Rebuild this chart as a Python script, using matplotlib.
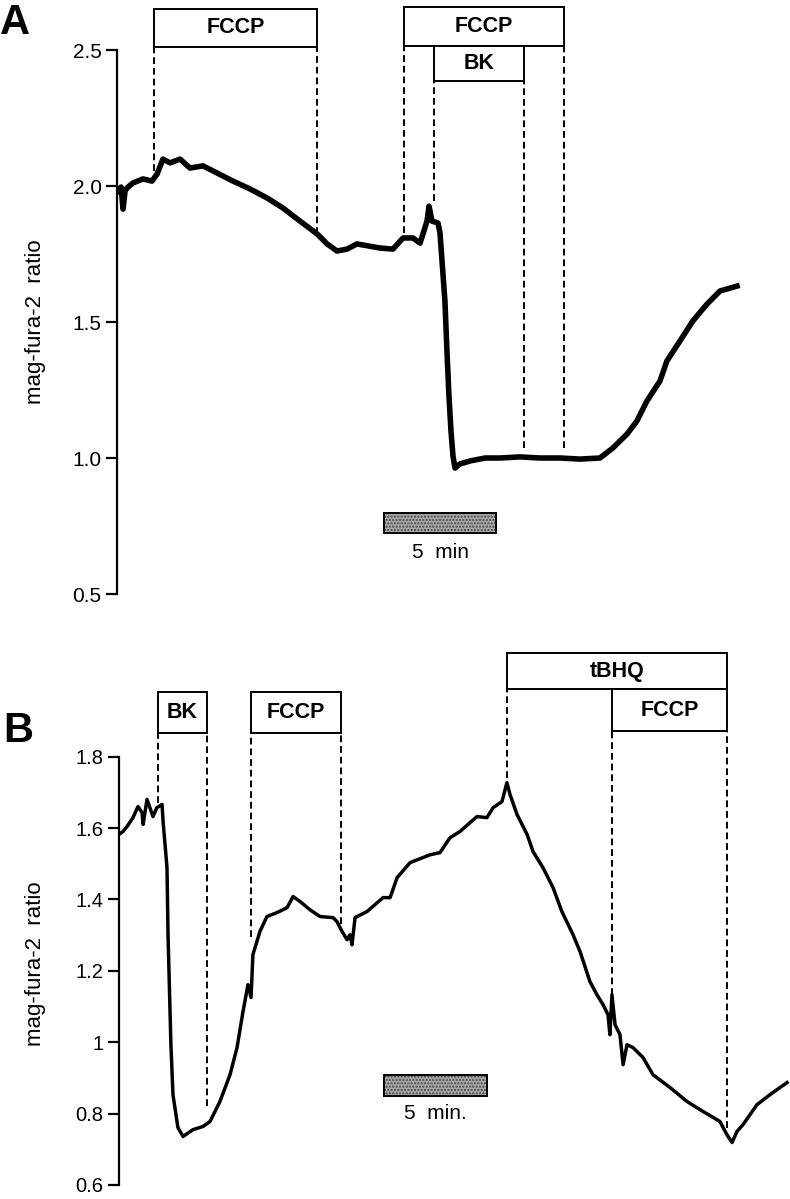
import numpy as np
import matplotlib
matplotlib.use('Agg')
import matplotlib.pyplot as plt
from matplotlib.patches import Rectangle

plt.rcParams['font.family'] = ['Liberation Sans', 'DejaVu Sans']

# ---- panel A: mag-fura-2 ratio vs time (min) ----
a_time = [0.04, 0.18, 0.27, 0.36, 0.45, 0.71, 1.16, 1.56, 1.79, 2.05, 2.37, 2.81,
          3.26, 3.84, 4.46, 5.18, 5.94, 6.70, 7.41, 8.17, 8.93, 9.38, 9.82, 10.27,
          10.71, 11.74, 12.32, 12.77, 13.21, 13.53, 13.84, 13.93, 14.06, 14.33,
          14.42, 14.51, 14.64, 14.73, 14.82, 14.91, 15.00, 15.09, 15.31, 15.76,
          16.43, 17.10, 17.99, 18.88, 19.78, 20.67, 21.56, 22.14, 22.77, 23.21,
          23.66, 24.24, 24.55, 25.13, 25.71, 26.34, 26.92, 27.68]
a_ratio = [1.982, 1.996, 1.915, 1.982, 1.993, 2.011, 2.026, 2.018, 2.044, 2.099,
           2.085, 2.099, 2.066, 2.074, 2.048, 2.018, 1.989, 1.956, 1.919, 1.871,
           1.824, 1.787, 1.761, 1.768, 1.787, 1.772, 1.768, 1.809, 1.809, 1.790,
           1.871, 1.926, 1.871, 1.864, 1.827, 1.724, 1.577, 1.393, 1.228, 1.099,
           1.007, 0.963, 0.978, 0.989, 1.000, 1.000, 1.004, 1.000, 1.000, 0.996,
           1.000, 1.037, 1.088, 1.136, 1.210, 1.283, 1.357, 1.430, 1.504, 1.566,
           1.614, 1.632]
a_events = [1.65, 8.93, 12.81, 14.15, 18.17, 19.96]
a_event_ends = [2.055, 1.824, 1.827, 1.945, 1.037, 1.037]
a_ticks = [0.5, 1.0, 1.5, 2.0, 2.5]
a_ticklabels = ['0.5', '1.0', '1.5', '2.0', '2.5']

# ---- panel B ----
b_time = [0.0, 0.19, 0.39, 0.68, 0.92, 1.12, 1.17, 1.36, 1.50, 1.65, 1.84, 2.09,
          2.14, 2.33, 2.38, 2.52, 2.62, 2.86, 3.11, 3.59, 4.08, 4.42, 4.90, 5.39,
          5.73, 6.02, 6.26, 6.41, 6.50, 6.84, 7.18, 7.67, 8.16, 8.45, 8.79, 9.27,
          9.76, 10.39, 10.58, 10.83, 11.07, 11.21, 11.31, 11.46, 12.04, 12.82,
          13.16, 13.50, 14.13, 15.10, 15.58, 16.07, 16.55, 17.04, 17.38, 17.86,
          18.16, 18.59, 18.83, 18.98, 19.32, 19.81, 20.10, 20.58, 21.07, 21.50,
          22.04, 22.38, 22.86, 23.20, 23.50, 23.74, 23.83, 23.93, 24.08, 24.32,
          24.47, 24.66, 24.95, 25.44, 25.92, 26.75, 27.57, 28.35, 29.17, 29.51,
          29.76, 30.00, 30.29, 30.97, 31.60, 32.43]
b_ratio = [1.582, 1.590, 1.604, 1.629, 1.660, 1.643, 1.610, 1.680, 1.657, 1.632,
           1.657, 1.666, 1.618, 1.489, 1.301, 0.993, 0.853, 0.761, 0.736, 0.755,
           0.764, 0.778, 0.834, 0.909, 0.985, 1.086, 1.161, 1.125, 1.245, 1.310,
           1.352, 1.363, 1.377, 1.408, 1.394, 1.371, 1.352, 1.349, 1.338, 1.310,
           1.287, 1.301, 1.273, 1.349, 1.366, 1.405, 1.405, 1.461, 1.503, 1.525,
           1.531, 1.573, 1.590, 1.615, 1.632, 1.629, 1.657, 1.674, 1.727, 1.694,
           1.638, 1.582, 1.534, 1.489, 1.433, 1.366, 1.301, 1.254, 1.170, 1.133,
           1.105, 1.077, 1.021, 1.133, 1.049, 1.021, 0.937, 0.993, 0.985, 0.957,
           0.909, 0.873, 0.834, 0.806, 0.778, 0.741, 0.719, 0.750, 0.769, 0.825,
           0.853, 0.887]
b_events = [1.89, 4.27, 6.41, 10.78, 18.83, 23.93, 29.51]
b_event_ends = [1.671, 0.820, 1.296, 1.330, 1.741, 1.133, 0.761]
b_ticks = [0.6, 0.8, 1.0, 1.2, 1.4, 1.6, 1.8]
b_ticklabels = ['0.6', '0.8', '1', '1.2', '1.4', '1.6', '1.8']

W, H = 790, 1199
DASH = (0, (3.5, 2))


def draw_box(ax, t0, t1, y0, y1, label):
    ax.add_patch(Rectangle((t0, y0), t1 - t0, y1 - y0, facecolor='white',
                           edgecolor='black', lw=1.4, clip_on=False, zorder=4))
    ax.text((t0 + t1) / 2, (y0 + y1) / 2, label, ha='center', va='center',
            fontsize=15.5, fontweight='bold', zorder=5, clip_on=False)


def scale_bar(ax, t0, y0, y1, ytext, label):
    ax.add_patch(Rectangle((t0, y0), 5, y1 - y0, facecolor='#a8a8a8',
                           edgecolor='#444444', hatch='.....', lw=0, zorder=3))
    ax.add_patch(Rectangle((t0, y0), 5, y1 - y0, facecolor='none',
                           edgecolor='black', lw=1.4, zorder=3))
    ax.text(t0 + 2.5, ytext, label, ha='center', va='center', fontsize=15)


def style_axis(ax, lo, hi, ticks, labels, size):
    for s in ['top', 'right', 'bottom']:
        ax.spines[s].set_visible(False)
    ax.spines['left'].set_bounds(lo, hi)
    ax.spines['left'].set_linewidth(1.6)
    ax.set_xticks([])
    ax.set_yticks(ticks)
    ax.set_yticklabels(labels)
    ax.tick_params(axis='y', direction='out', length=8, width=1.6, pad=3,
                   labelsize=size)
    ax.patch.set_visible(False)


fig = plt.figure(figsize=(W / 100, H / 100), dpi=100)

# panel A: 22.4 px per min, 272 px per ratio unit
axA = fig.add_axes([117 / W, 1 - 594 / H, 1 - 117 / W, 594 / H])
axA.set_xlim(0, (W - 117) / 22.4)
axA.set_ylim(0.5, 2.5 + 50 / 272)
style_axis(axA, 0.5, 2.5, a_ticks, a_ticklabels, 15)
axA.plot(a_time, a_ratio, color='black', lw=4.0, zorder=3)
box_bottoms_a = [2.511, 2.511, 2.515, 2.386, 2.386, 2.515]
for t, yb, ye in zip(a_events, box_bottoms_a, a_event_ends):
    axA.plot([t, t], [ye, yb], color='black', lw=1.4, ls=DASH, zorder=2)
draw_box(axA, a_events[0], a_events[1], 2.511, 2.651, 'FCCP')
draw_box(axA, a_events[2], a_events[5], 2.515, 2.658, 'FCCP')
draw_box(axA, a_events[3], a_events[4], 2.386, 2.515, 'BK')
scale_bar(axA, (384 - 117) / 22.4, 0.724, 0.798, 0.651, '5  min')
axA.set_ylabel('mag-fura-2  ratio', fontsize=16)
axA.yaxis.set_label_coords((46 - 117) / (W - 117), (1.5 - 0.5) / (2.684 - 0.5))

# panel B: 20.6 px per min, 357 px per ratio unit
b_top, b_bottom = 645, 1185
axB = fig.add_axes([119 / W, 1 - b_bottom / H, 1 - 119 / W, (b_bottom - b_top) / H])
axB.set_xlim(0, (W - 119) / 20.6)
axB.set_ylim(0.6, 0.6 + (b_bottom - b_top) / 357)
style_axis(axB, 0.6, 1.8, b_ticks, b_ticklabels, 14.5)
axB.plot(b_time, b_ratio, color='black', lw=2.5, zorder=3)
box_bottoms_b = [1.867, 1.867, 1.867, 1.867, 1.988, 1.873, 1.873]
for t, yb, ye in zip(b_events, box_bottoms_b, b_event_ends):
    axB.plot([t, t], [ye, yb], color='black', lw=1.4, ls=DASH, zorder=2)
draw_box(axB, b_events[0], b_events[1], 1.867, 1.982, 'BK')
draw_box(axB, b_events[2], b_events[3], 1.867, 1.982, 'FCCP')
draw_box(axB, b_events[4], b_events[6], 1.988, 2.089, 'tBHQ')
draw_box(axB, b_events[5], b_events[6], 1.873, 1.988, 'FCCP')
scale_bar(axB, (384 - 119) / 20.6, 0.848, 0.909, 0.80, '5  min.')
axB.set_ylabel('mag-fura-2  ratio', fontsize=16)
axB.yaxis.set_label_coords((46 - 119) / (W - 119),
                           (1.22 - 0.6) / ((b_bottom - b_top) / 357))

fig.text(0.0, 1 - 3 / H, 'A', fontsize=30, fontweight='bold', va='top', ha='left')
fig.text(3 / W, 1 - 711 / H, 'B', fontsize=30, fontweight='bold', va='top', ha='left')

fig.savefig('out.png', dpi=100)
